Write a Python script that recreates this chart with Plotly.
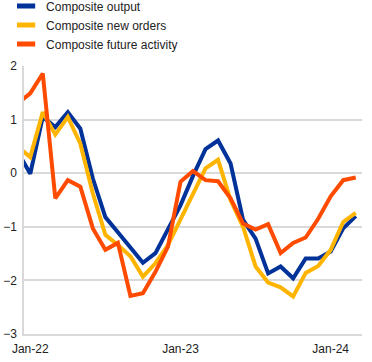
import plotly.graph_objects as go

# Monthly observations, Dec-21 .. Mar-24
months = ["Dec-21",
          "Jan-22", "Feb-22", "Mar-22", "Apr-22", "May-22", "Jun-22",
          "Jul-22", "Aug-22", "Sep-22", "Oct-22", "Nov-22", "Dec-22",
          "Jan-23", "Feb-23", "Mar-23", "Apr-23", "May-23", "Jun-23",
          "Jul-23", "Aug-23", "Sep-23", "Oct-23", "Nov-23", "Dec-23",
          "Jan-24", "Feb-24", "Mar-24"]

composite_output = [0.40,
                    -0.01, 1.05, 0.86, 1.14, 0.83, -0.10,
                    -0.82, -1.10, -1.38, -1.67, -1.49, -1.05,
                    -0.60, -0.05, 0.45, 0.61, 0.18, -0.87,
                    -1.22, -1.87, -1.74, -1.96, -1.59, -1.59,
                    -1.46, -1.03, -0.80]

composite_new_orders = [0.50,
                        0.30, 1.14, 0.72, 1.05, 0.55, -0.38,
                        -1.15, -1.34, -1.55, -1.93, -1.68, -1.34,
                        -0.85, -0.38, 0.09, 0.25, -0.50, -1.00,
                        -1.74, -2.04, -2.13, -2.30, -1.86, -1.73,
                        -1.43, -0.91, -0.74]

composite_future_activity = [1.30,
                             1.49, 1.86, -0.47, -0.13, -0.25, -1.03,
                             -1.43, -1.30, -2.29, -2.24, -1.84, -1.37,
                             -0.16, 0.04, -0.13, -0.15, -0.47, -0.94,
                             -1.05, -0.95, -1.49, -1.30, -1.20, -0.85,
                             -0.43, -0.13, -0.08]

tick_labels = ["Jan-22", "Jan-23", "Jan-24"]
y_ticks = [2, 1, 0, -1, -2, -3]

series = [
    ("Composite output", composite_output, "#003299"),
    ("Composite new orders", composite_new_orders, "#FFB400"),
    ("Composite future activity", composite_future_activity, "#FF4B00"),
]

x = list(range(len(months)))
FONT = "Liberation Sans, Arial, sans-serif"
GRID = "#D9D9D9"

fig = go.Figure()
for name, vals, col in series:
    fig.add_trace(go.Scatter(
        x=x, y=vals, mode="lines", name=name,
        line=dict(color=col, width=4),
        showlegend=False, hoverinfo="skip"))
# legend entries (short thick bars like the original)
for name, vals, col in series:
    fig.add_trace(go.Scatter(
        x=[None], y=[None], mode="markers", name=name,
        marker=dict(symbol="line-ew", size=13, color=col,
                    line=dict(color=col, width=5)),
        showlegend=True))

label_pos = [months.index(t) for t in tick_labels]          # category centres
grid_pos = [months.index(t) - 0.5 for t in tick_labels]     # category boundaries
xrange = [0.5, len(months) - 0.5]

fig.update_layout(
    width=372, height=362,
    margin=dict(l=24, r=10, t=66, b=28, autoexpand=False),
    paper_bgcolor="white", plot_bgcolor="white",
    font=dict(family=FONT, size=12, color="#222222"),
    showlegend=True,
    hovermode=False,
    legend=dict(x=-0.053, y=1.278, xanchor="left", yanchor="top",
                bgcolor="rgba(0,0,0,0)", font=dict(size=12, color="#222222"),
                tracegroupgap=0),
    xaxis=dict(range=xrange, tickmode="array",
               tickvals=label_pos, ticktext=tick_labels,
               ticklabelstandoff=3,
               showgrid=False,
               showline=True, linecolor=GRID, linewidth=1.5,
               zeroline=False, ticks=""),
    xaxis2=dict(range=xrange, overlaying="x", matches="x", anchor="y",
                side="bottom", tickmode="array", tickvals=grid_pos,
                showticklabels=False, showgrid=True, gridcolor=GRID,
                gridwidth=1.5, showline=False, zeroline=False, ticks=""),
    yaxis=dict(range=[-3, 2], tickmode="array", tickvals=y_ticks,
               showgrid=True, gridcolor=GRID, gridwidth=1.5,
               showline=True, linecolor=GRID, linewidth=1.5,
               zeroline=False, ticks="", ticklabelstandoff=3),
)

# remove the browser's default 8px body margin so the figure sits at the page corner
fig.write_html("out.html",
               config={"displayModeBar": False, "staticPlot": False},
               post_script="document.body.style.margin='0';"
                           "document.body.style.overflow='hidden';")
